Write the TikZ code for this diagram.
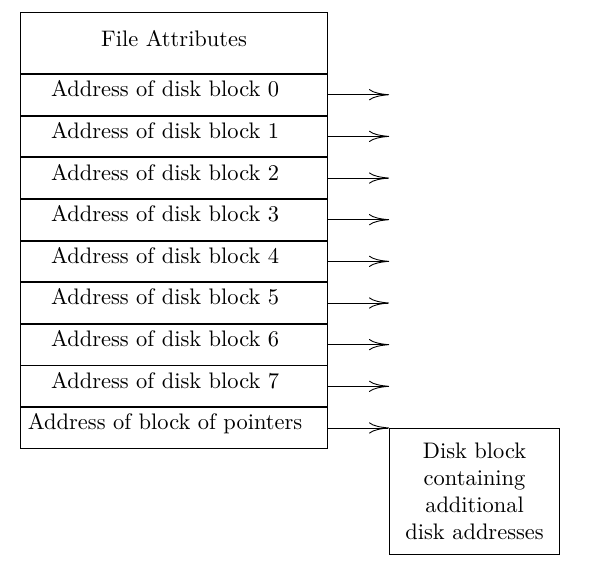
\documentclass[tikz,border=0pt]{standalone}
\usetikzlibrary{positioning}
\usetikzlibrary{arrows.meta}
\tikzset{every edge/.style={draw}, >={To[length=9pt,width=5pt]}}
\tikzset{cell/.style={draw, minimum width=4.81cm, minimum height=0.638cm, inner sep=0pt, text depth=5.4pt, execute at begin node={\hspace*{-0.28cm}}}}

\begin{document}
\begin{tikzpicture}
    \useasboundingbox (0,0) rectangle (9.33,-8.99);
    \node[draw, minimum width=4.81cm, minimum height=0.955cm, text depth=4pt, anchor=north west] at (0.313,-0.188) (attr) {File Attributes};
    \node[cell, below=0pt of attr] (b0) {Address of disk block 0};
    \node[cell, below=0pt of b0] (b1) {Address of disk block 1};
    \node[cell, below=0pt of b1] (b2) {Address of disk block 2};
    \node[cell, below=0pt of b2] (b3) {Address of disk block 3};
    \node[cell, below=0pt of b3] (b4) {Address of disk block 4};
    \node[cell, below=0pt of b4] (b5) {Address of disk block 5};
    \node[cell, below=0pt of b5] (b6) {Address of disk block 6};
    \node[cell, below=0pt of b6] (b7) {Address of disk block 7};
    \node[cell, below=0pt of b7] (ptr) {Address of block of pointers};
    \node[draw, align=center, minimum width=2.66cm, minimum height=1.97cm, below right=0pt and 0.955cm of ptr.east] (disk) {Disk block\\containing\\additional\\disk addresses};

    % free ends of the block arrows
    \coordinate[right=0.955cm of b0.east] (t0);
    \coordinate[right=0.955cm of b1.east] (t1);
    \coordinate[right=0.955cm of b2.east] (t2);
    \coordinate[right=0.955cm of b3.east] (t3);
    \coordinate[right=0.955cm of b4.east] (t4);
    \coordinate[right=0.955cm of b5.east] (t5);
    \coordinate[right=0.955cm of b6.east] (t6);
    \coordinate[right=0.955cm of b7.east] (t7);

    \draw (b0.east) edge[->] (t0);
    \draw (b1.east) edge[->] (t1);
    \draw (b2.east) edge[->] (t2);
    \draw (b3.east) edge[->] (t3);
    \draw (b4.east) edge[->] (t4);
    \draw (b5.east) edge[->] (t5);
    \draw (b6.east) edge[->] (t6);
    \draw (b7.east) edge[->] (t7);
    \draw (ptr.east) edge[->] (disk.north west);
\end{tikzpicture}
\end{document}
